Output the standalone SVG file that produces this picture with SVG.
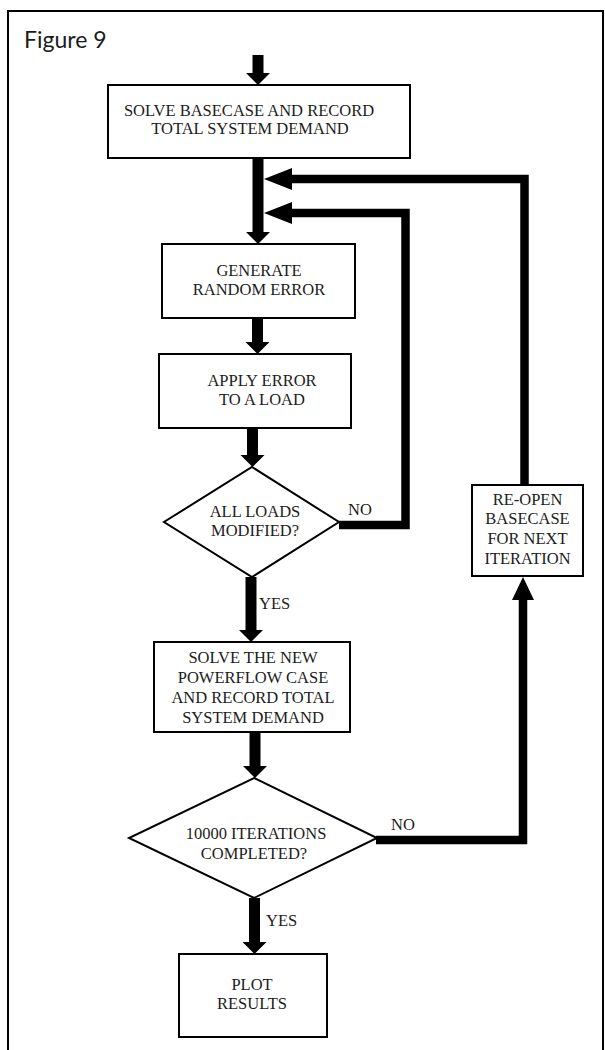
<svg xmlns="http://www.w3.org/2000/svg" width="605" height="1050" viewBox="0 0 605 1050">
  <style>
    .box { fill: #ffffff; stroke: #000000; stroke-width: 2; }
    .lbl { font-family: "Liberation Serif", "Times New Roman", serif; font-size: 16.5px; fill: #1c1c1c; text-anchor: middle; }
    .tag { font-family: "Liberation Serif", "Times New Roman", serif; font-size: 16.5px; fill: #1c1c1c; }
    .flow { fill: none; stroke: #000000; stroke-linejoin: miter; stroke-linecap: butt; }
    .main { stroke-width: 11; }
    .loop { stroke-width: 8.5; }
    .title { font-family: Lato, "Open Sans", "Liberation Sans", sans-serif; font-size: 23px; fill: #1c1c1c; }
  </style>
  <defs>
    <!-- arrowheads anchored at their base, pointing along the path -->
    <marker id="head-main" markerUnits="userSpaceOnUse" markerWidth="13" markerHeight="25" refX="0" refY="12.5" orient="auto" overflow="visible">
      <path d="M0,0.5 L12,12.5 L0,24.5 Z" fill="#000"/>
    </marker>
    <marker id="head-loop" markerUnits="userSpaceOnUse" markerWidth="29" markerHeight="22" refX="0" refY="11" orient="auto" overflow="visible">
      <path d="M0,0 L28,11 L0,22 Z" fill="#000"/>
    </marker>
    <marker id="head-up" markerUnits="userSpaceOnUse" markerWidth="24" markerHeight="22" refX="0" refY="11" orient="auto" overflow="visible">
      <path d="M0,0 L23,11 L0,22 Z" fill="#000"/>
    </marker>
  </defs>

  <rect x="0" y="0" width="605" height="1050" fill="#ffffff"/>

  <!-- outer frame -->
  <path d="M8,1050 V11 H603 V1050" fill="none" stroke="#000" stroke-width="2"/>

  <text class="title" x="24" y="48">Figure 9</text>

  <!-- connectors -->
  <g id="connectors">
    <path class="flow main" d="M258,55 V73" marker-end="url(#head-main)"/>
    <path class="flow main" d="M258,158 V232" marker-end="url(#head-main)"/>
    <path class="flow main" d="M257.5,318 V342" marker-end="url(#head-main)"/>
    <path class="flow main" d="M252.5,428 V455" marker-end="url(#head-main)"/>
    <path class="flow main" d="M251,577 V630" marker-end="url(#head-main)"/>
    <path class="flow main" d="M255,732 V766" marker-end="url(#head-main)"/>
    <path class="flow main" d="M254.5,898 V942" marker-end="url(#head-main)"/>
    <!-- NO from ALL LOADS MODIFIED? back to the generate step -->
    <path class="flow loop" d="M339,525 H405.5 V213 H292" marker-end="url(#head-loop)"/>
    <!-- NO from 10000 ITERATIONS COMPLETED? to RE-OPEN -->
    <path class="flow loop" d="M376,840 H523 V600" marker-end="url(#head-up)"/>
    <!-- RE-OPEN back to the top of the loop -->
    <path class="flow loop" d="M524.5,485 V179 H292" marker-end="url(#head-loop)"/>
    <text class="tag" x="348" y="515">NO</text>
    <text class="tag" x="259" y="609">YES</text>
    <text class="tag" x="391" y="830">NO</text>
    <text class="tag" x="266" y="926">YES</text>
  </g>

  <g id="solve-basecase">
    <rect class="box" x="108" y="85" width="302" height="73"/>
    <text class="lbl" x="249" y="116">SOLVE BASECASE AND RECORD</text>
    <text class="lbl" x="250" y="134">TOTAL SYSTEM DEMAND</text>
  </g>

  <g id="generate-error">
    <rect class="box" x="162" y="244" width="193" height="74"/>
    <text class="lbl" x="259" y="276">GENERATE</text>
    <text class="lbl" x="259" y="295">RANDOM ERROR</text>
  </g>

  <g id="apply-error">
    <rect class="box" x="159" y="354" width="192" height="74"/>
    <text class="lbl" x="262" y="386">APPLY ERROR</text>
    <text class="lbl" x="262" y="405">TO A LOAD</text>
  </g>

  <g id="all-loads">
    <path class="box" d="M252,467 L339,522 L252,577 L164,522 Z"/>
    <text class="lbl" x="255" y="517">ALL LOADS</text>
    <text class="lbl" x="255" y="536">MODIFIED?</text>
  </g>

  <g id="solve-new">
    <rect class="box" x="154" y="642" width="196" height="90"/>
    <text class="lbl" x="253" y="663">SOLVE THE NEW</text>
    <text class="lbl" x="253" y="683">POWERFLOW CASE</text>
    <text class="lbl" x="253" y="703">AND RECORD TOTAL</text>
    <text class="lbl" x="253" y="723">SYSTEM DEMAND</text>
  </g>

  <g id="iterations">
    <path class="box" d="M254,778 L377,838 L254,898 L129,838 Z"/>
    <text class="lbl" x="256" y="839">10000 ITERATIONS</text>
    <text class="lbl" x="254" y="859">COMPLETED?</text>
  </g>

  <g id="re-open">
    <rect class="box" x="472" y="485" width="111" height="91"/>
    <text class="lbl" x="527.5" y="505">RE-OPEN</text>
    <text class="lbl" x="527.5" y="524">BASECASE</text>
    <text class="lbl" x="527.5" y="544">FOR NEXT</text>
    <text class="lbl" x="527.5" y="564">ITERATION</text>
  </g>

  <g id="plot-results">
    <rect class="box" x="179" y="954" width="148" height="83"/>
    <text class="lbl" x="252" y="990">PLOT</text>
    <text class="lbl" x="252" y="1009">RESULTS</text>
  </g>
</svg>
